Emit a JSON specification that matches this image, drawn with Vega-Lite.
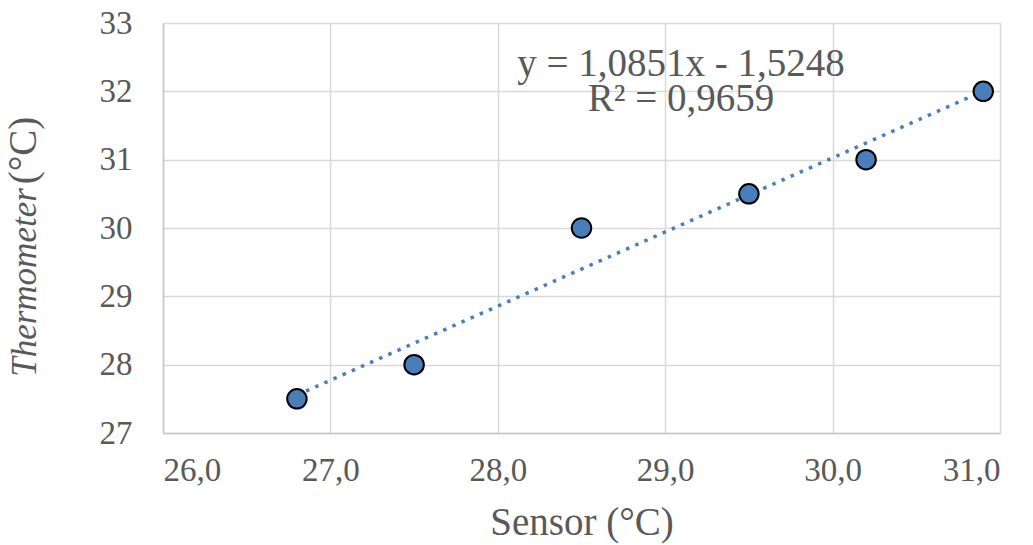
{
  "$schema": "https://vega.github.io/schema/vega-lite/v6.json",
  "width": 837,
  "height": 410,
  "autosize": {"type": "none"},
  "padding": {"left": 163, "top": 23, "right": 33, "bottom": 112},
  "background": "white",
  "config": {
    "font": "Liberation Serif",
    "view": {"stroke": null},
    "axis": {
      "labelColor": "#595959",
      "titleColor": "#595959",
      "labelFont": "Liberation Serif",
      "titleFont": "Liberation Serif",
      "labelFontSize": 33,
      "titleFontSize": 39,
      "titleFontWeight": "normal",
      "gridColor": "#d9d9d9",
      "gridWidth": 1.5,
      "domainColor": "#c6c6c6",
      "domainWidth": 1.5,
      "ticks": false,
      "tickSize": 0
    }
  },
  "data": {
    "values": [
      {"sensor": 26.8, "temp": 27.5},
      {"sensor": 27.5, "temp": 28.0},
      {"sensor": 28.5, "temp": 30.0},
      {"sensor": 29.5, "temp": 30.5},
      {"sensor": 30.2, "temp": 31.0},
      {"sensor": 30.9, "temp": 32.0}
    ]
  },
  "layer": [
    {
      "transform": [{"regression": "temp", "on": "sensor"}],
      "mark": {"type": "line", "color": "#4a7ebb", "strokeWidth": 3.5, "strokeDash": [3.5, 6.5]},
      "encoding": {
        "x": {"field": "sensor", "type": "quantitative", "scale": {"domain": [26, 31], "nice": false, "zero": false}, "axis": null},
        "y": {"field": "temp", "type": "quantitative", "scale": {"domain": [27, 33], "nice": false, "zero": false},
          "axis": {"orient": "left", "labels": false, "grid": false, "domain": false, "ticks": false,
            "title": "(°C)", "titleFontStyle": "normal", "titleFontSize": 39, "titleAngle": -90, "titleAlign": "center",
            "titleBaseline": "alphabetic", "titleX": -128, "titleY": 127}}
      }
    },
    {
      "mark": {"type": "point", "filled": true, "fill": "#4a7ebb", "stroke": "#000000", "strokeWidth": 2, "size": 380, "opacity": 1, "shape": "circle"},
      "encoding": {
        "x": {"field": "sensor", "type": "quantitative",
          "axis": {"title": "Sensor (°C)", "values": [26, 27, 28, 29, 30, 31],
            "labelExpr": "replace(format(datum.value, '.1f'), '.', ',')",
            "labelPadding": 21, "titleBaseline": "alphabetic", "titleY": 101, "grid": true, "domain": true}},
        "y": {"field": "temp", "type": "quantitative",
          "axis": {"orient": "left", "title": "Thermometer", "values": [27, 28, 29, 30, 31, 32, 33],
            "labelPadding": 31, "titleFontStyle": "italic", "titleFontSize": 35, "titleAngle": -90, "titleAlign": "center",
            "titleBaseline": "alphabetic", "titleX": -128, "titleY": 259, "grid": true, "domain": true}}
      }
    },
    {
      "data": {"values": [{}]},
      "mark": {"type": "text", "text": ["y = 1,0851x - 1,5248", "R² = 0,9659"], "font": "Liberation Serif", "fontSize": 39, "color": "#595959", "align": "center", "baseline": "alphabetic", "lineHeight": 35},
      "encoding": {
        "x": {"datum": 29.094, "type": "quantitative", "axis": null},
        "y": {"datum": 32.23, "type": "quantitative", "axis": null}
      }
    }
  ],
  "resolve": {"axis": {"y": "independent", "x": "independent"}}
}
